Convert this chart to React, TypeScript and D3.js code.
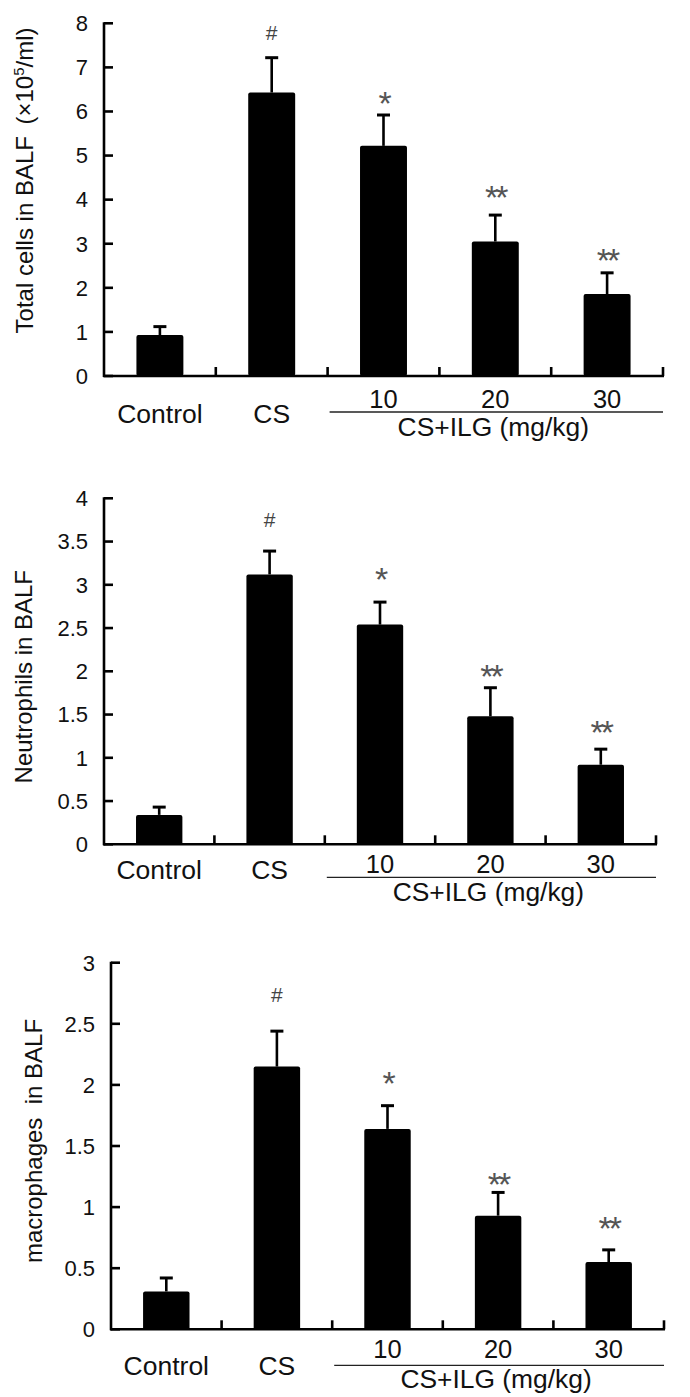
import React from "react";
import * as d3 from "d3";

const categories = ["Control", "CS", "10", "20", "30"];
const groupLabel = "CS+ILG (mg/kg)";

const totalMeans = [0.93, 6.43, 5.22, 3.05, 1.86];
const totalErrs = [0.19, 0.79, 0.7, 0.6, 0.48];
const totalTicks = [0, 1, 2, 3, 4, 5, 6, 7, 8];
const totalSigPos = [0, 7.8, 6.37, 4.24, 2.79];

const neutMeans = [0.34, 3.12, 2.54, 1.48, 0.92];
const neutErrs = [0.09, 0.27, 0.26, 0.33, 0.18];
const neutTicks = [0, 0.5, 1, 1.5, 2, 2.5, 3, 3.5, 4];
const neutSigPos = [0, 3.75, 3.15, 2.03, 1.38];

const macMeans = [0.31, 2.15, 1.64, 0.93, 0.55];
const macErrs = [0.11, 0.29, 0.19, 0.19, 0.1];
const macTicks = [0, 0.5, 1, 1.5, 2, 2.5, 3];
const macSigPos = [0, 2.74, 2.08, 1.25, 0.89];

const sigLabels = ["", "#", "*", "**", "**"];

const FONT = "'Liberation Sans', Arial, Helvetica, sans-serif";

type PanelProps = {
  means: number[];
  errs: number[];
  ticks: number[];
  sigPos: number[];
  yMax: number;
  x0: number;
  x1: number;
  yTop: number;
  yBottom: number;
  yLabel: React.ReactNode;
  yLabelX: number;
  yLabelY: number;
  catOffset: number;
  numOffset: number;
  lineOffset: number;
  groupOffset: number;
};

function Panel(p: PanelProps) {
  const x = d3
    .scaleBand<string>()
    .domain(categories)
    .range([p.x0, p.x1])
    .paddingInner(0.58)
    .paddingOuter(0.29);
  const y = d3.scaleLinear().domain([0, p.yMax]).range([p.yBottom, p.yTop]);
  const bw = x.bandwidth();
  const step = x.step();
  const cx = (c: string) => (x(c) as number) + bw / 2;
  const boundaries = categories.map((_, i) => p.x0 + step * (i + 1));
  const numCats = categories.slice(2);
  const lineStart = boundaries[1] + 2;
  const lineEnd = p.x1;
  const groupCenter = cx("20") - 2;

  return (
    <g>
      {categories.map((c, i) => (
        <rect
          key={"b" + c}
          x={x(c)}
          y={y(p.means[i])}
          width={bw}
          height={y(0) - y(p.means[i])}
          fill="#000"
          rx={2}
        />
      ))}
      {categories.map((c, i) => (
        <g key={"e" + c} stroke="#000" strokeWidth={2.6}>
          <line x1={cx(c)} x2={cx(c)} y1={y(p.means[i])} y2={y(p.means[i] + p.errs[i])} />
          <line
            x1={cx(c) - 6.5}
            x2={cx(c) + 6.5}
            y1={y(p.means[i] + p.errs[i])}
            y2={y(p.means[i] + p.errs[i])}
            strokeWidth={3}
          />
        </g>
      ))}
      {categories.map((c, i) =>
        sigLabels[i] ? (
          sigLabels[i] === "#" ? (
            <text
              key={"s" + c}
              x={cx(c)}
              y={y(p.sigPos[i]) + 7.5}
              textAnchor="middle"
              fontFamily={FONT}
              fontSize={21}
              fill="#444"
            >
              {sigLabels[i]}
            </text>
          ) : (
            <text
              key={"s" + c}
              x={cx(c)}
              y={y(p.sigPos[i]) + 19.5}
              textAnchor="middle"
              fontFamily={FONT}
              fontSize={34}
              fill="#555"
              letterSpacing={-3}
            >
              {sigLabels[i]}
            </text>
          )
        ) : null
      )}
      <line x1={p.x0} x2={p.x0} y1={p.yTop - 1} y2={p.yBottom + 1} stroke="#000" strokeWidth={2.6} />
      {p.ticks.map((t) => (
        <g key={"t" + t}>
          <line x1={p.x0} x2={p.x0 + 9} y1={y(t)} y2={y(t)} stroke="#000" strokeWidth={2.6} />
          <text
            x={p.x0 - 16}
            y={y(t) + 7.8}
            textAnchor="end"
            fontFamily={FONT}
            fontSize={22}
            fill="#111"
          >
            {String(t)}
          </text>
        </g>
      ))}
      <line x1={p.x0 - 1} x2={p.x1 + 1} y1={p.yBottom} y2={p.yBottom} stroke="#000" strokeWidth={2.6} />
      {boundaries.map((b, i) => (
        <line key={"xt" + i} x1={b} x2={b} y1={p.yBottom} y2={p.yBottom - 9} stroke="#000" strokeWidth={2.6} />
      ))}
      {["Control", "CS"].map((c) => (
        <text
          key={"c" + c}
          x={cx(c)}
          y={p.yBottom + p.catOffset}
          textAnchor="middle"
          fontFamily={FONT}
          fontSize={26.5}
          fill="#111"
        >
          {c}
        </text>
      ))}
      {numCats.map((c) => (
        <text
          key={"n" + c}
          x={cx(c)}
          y={p.yBottom + p.numOffset}
          textAnchor="middle"
          fontFamily={FONT}
          fontSize={25.5}
          fill="#111"
        >
          {c}
        </text>
      ))}
      <line
        x1={lineStart}
        x2={lineEnd}
        y1={p.yBottom + p.lineOffset}
        y2={p.yBottom + p.lineOffset}
        stroke="#222"
        strokeWidth={1.3}
      />
      <text
        x={groupCenter}
        y={p.yBottom + p.groupOffset}
        textAnchor="middle"
        fontFamily={FONT}
        fontSize={26.4}
        fill="#111"
      >
        {groupLabel}
      </text>
      <text
        transform={`translate(${p.yLabelX},${p.yLabelY}) rotate(-90)`}
        textAnchor="middle"
        fontFamily={FONT}
        fontSize={24}
        fill="#111"
      >
        {p.yLabel}
      </text>
    </g>
  );
}

export default function App() {
  return (
    <svg
      width={690}
      height={1397}
      viewBox="0 0 690 1397"
      style={{ position: "absolute", left: 0, top: 0, background: "#fff" }}
    >
      <rect x={0} y={0} width={690} height={1397} fill="#fff" />
      <Panel
        means={totalMeans}
        errs={totalErrs}
        ticks={totalTicks}
        sigPos={totalSigPos}
        yMax={8}
        x0={104}
        x1={663}
        yTop={23.3}
        yBottom={376}
        yLabelX={33}
        yLabelY={180.5}
        yLabel={
          <>
            Total cells in BALF{"\u2009 "}(×10
            <tspan fontSize={15} dy={-9}>
              5
            </tspan>
            <tspan dy={9}>/ml)</tspan>
          </>
        }
        catOffset={47}
        numOffset={32}
        lineOffset={36}
        groupOffset={60}
      />
      <Panel
        means={neutMeans}
        errs={neutErrs}
        ticks={neutTicks}
        sigPos={neutSigPos}
        yMax={4}
        x0={104}
        x1={656}
        yTop={498.3}
        yBottom={844.3}
        yLabelX={31.7}
        yLabelY={676.7}
        yLabel={"Neutrophils in BALF"}
        catOffset={35}
        numOffset={29}
        lineOffset={33}
        groupOffset={57}
      />
      <Panel
        means={macMeans}
        errs={macErrs}
        ticks={macTicks}
        sigPos={macSigPos}
        yMax={3}
        x0={111}
        x1={664}
        yTop={962.7}
        yBottom={1329.3}
        yLabelX={41.7}
        yLabelY={1141}
        yLabel={"macrophages\u00a0 in BALF"}
        catOffset={46}
        numOffset={29}
        lineOffset={36}
        groupOffset={59}
      />
    </svg>
  );
}
